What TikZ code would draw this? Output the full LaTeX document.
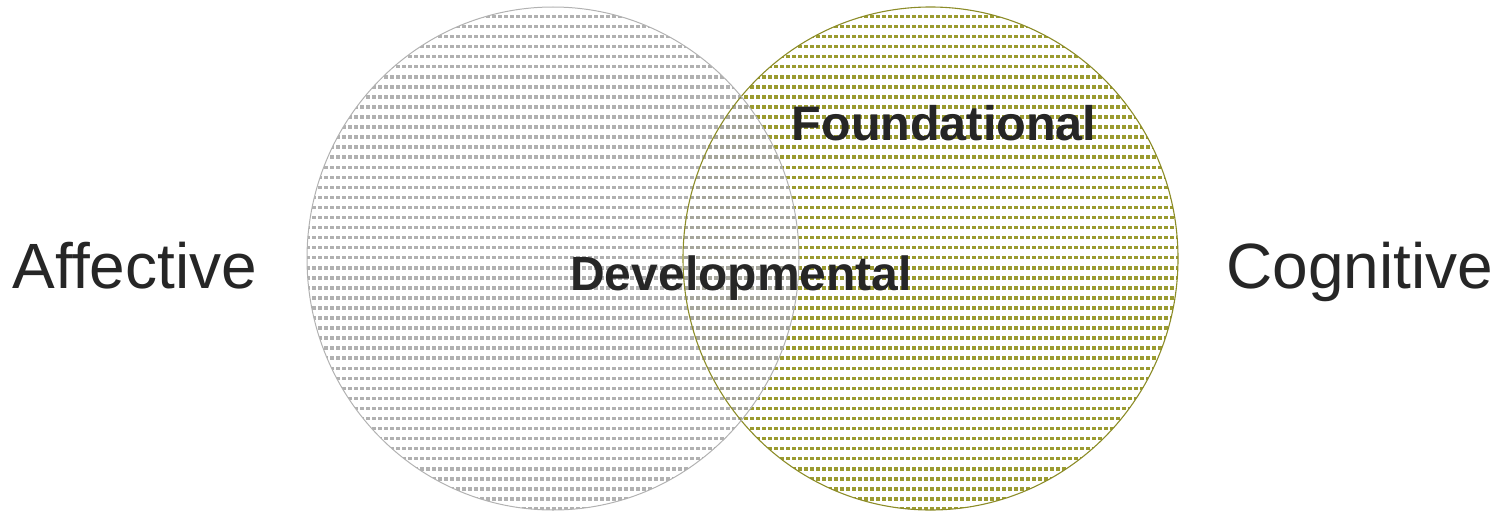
\documentclass[tikz,border=0pt]{standalone}
\usepackage{fontspec}
\setmainfont{Liberation Sans}
\definecolor{graypat}{RGB}{168,168,168}
\definecolor{greenpat}{RGB}{155,155,48}
\definecolor{grayedge}{RGB}{178,178,178}
\definecolor{greenedge}{RGB}{140,140,40}
\definecolor{txt}{RGB}{38,38,38}
\begin{document}
\begin{tikzpicture}[x=1pt,y=-1pt,
  patline/.style={line width=3.5pt, dash pattern=on 3.5pt off 2.5pt},
  side/.style={font=\fontsize{64}{70}\selectfont, text=txt, anchor=base, inner sep=0pt},
  inner/.style={text=txt, anchor=base, inner sep=0pt}]
\useasboundingbox (0,0) rectangle (1499,511);
\coordinate (A) at (553,258.5);
\coordinate (C) at (930.5,258.5);
% green circle pattern
\begin{scope}
  \clip (C) ellipse [x radius=247.5, y radius=251.5];
  \foreach \k in {0,...,50} \draw[patline,greenpat] (0,{16.5+10.05*\k}) -- (1499,{16.5+10.05*\k});
\end{scope}
% gray circle pattern
\begin{scope}
  \clip (A) ellipse [x radius=246, y radius=251.5];
  \foreach \k in {0,...,50} \draw[patline,graypat,opacity=0.9] (0,{16.5+10.05*\k}) -- (1499,{16.5+10.05*\k});
\end{scope}
\draw[greenedge,line width=1.1pt] (C) ellipse [x radius=247.5, y radius=251.5];
\draw[grayedge,line width=1pt] (A) ellipse [x radius=246, y radius=251.5];
\node[side] (aff) at (135,288) {Affective};
\node[side] (cog) at (1360,288) {Cognitive};
\node[inner,font=\bfseries\fontsize{48.5}{55}\selectfont] (fou) at (944,140) {Foundational};
\node[inner,font=\bfseries\fontsize{48}{54}\selectfont] (dev) at (741,290) {Developmental};
\end{tikzpicture}
\end{document}
